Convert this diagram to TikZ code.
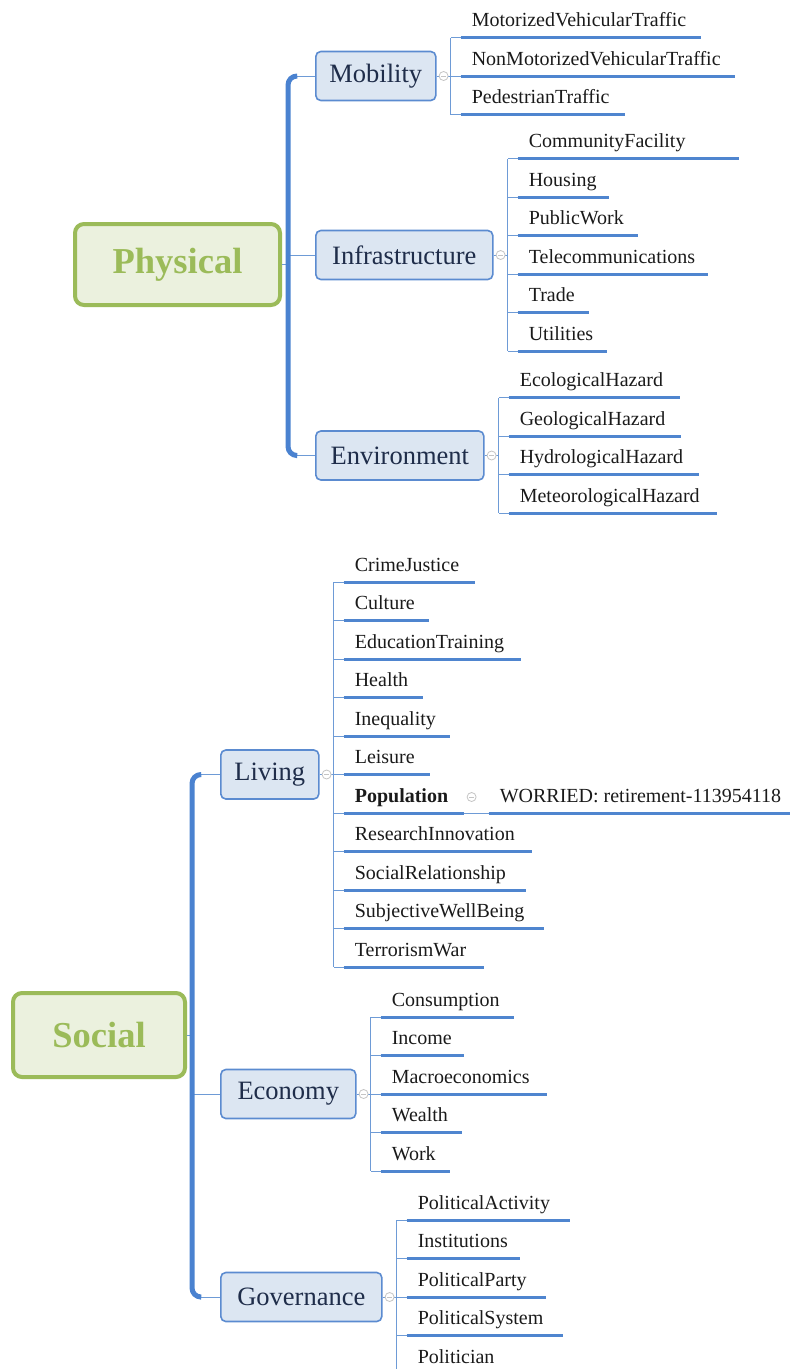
\documentclass[tikz,border=0pt]{standalone}
\usepackage{fontspec}
\setmainfont{Liberation Serif}

\definecolor{rootgreen}{HTML}{9BBB59}
\definecolor{rootfill}{HTML}{EBF1DE}
\definecolor{topicline}{HTML}{5B8BD0}
\definecolor{topicfill}{HTML}{DCE6F2}
\definecolor{topicink}{HTML}{1F2D4A}
\definecolor{spineblue}{HTML}{4A82D0}
\definecolor{ulineblue}{HTML}{4F85CF}
\definecolor{twigblue}{HTML}{6E9BD6}
\definecolor{knobgray}{HTML}{C4C4C4}
\definecolor{leafink}{HTML}{1A1A1A}

\newcommand{\rootfont}{\fontsize{36.5}{40}\selectfont}
\newcommand{\topicfont}{\fontsize{26.5}{30}\selectfont}
\newcommand{\leaffont}{\fontsize{20}{23}\selectfont}

\tikzset{
  root/.style={draw=rootgreen, line width=4, fill=rootfill, rounded corners=9,
    text=rootgreen, font=\rootfont\bfseries, minimum height=81},
  topic/.style={draw=topicline, line width=1.6, fill=topicfill, rounded corners=5,
    text=topicink, font=\topicfont, minimum height=49, anchor=west},
  leaf/.style={anchor=base west, inner sep=0, font=\leaffont, text=leafink},
  uline/.style={draw=ulineblue, line width=3},
  twig/.style={draw=twigblue, line width=1},
  spine/.style={draw=spineblue, line width=5, rounded corners=9},
  knob/.style={circle, draw=knobgray, fill=white, line width=0.8, minimum size=9, inner sep=0,
    path picture={\draw[knobgray, line width=0.8]
      ([xshift=-2.5]path picture bounding box.center) -- ([xshift=2.5]path picture bounding box.center);}}
}

% #1 topic node, #2 number of twigs, #3 list text/underline length
\newcommand{\twigs}[3]{%
  \draw[twig] (#1.east) -- ++(14,0);
  \foreach \txt/\len [count=\i] in {#3}{
    \coordinate (#1-u\i) at ([shift={(24,{(\i-(#2+1)/2)*38.5})}]#1.east);
    \coordinate (#1-e\i) at ([xshift=\len]#1-u\i);
    \node[leaf] (#1-\i) at ([shift={(11,-11)}]#1-u\i) {\txt};
    \draw[uline] (#1-u\i) -- (#1-e\i);
    \draw[twig] (#1-u\i) -- ++(-10,0);
  }
  \draw[twig] ([xshift=-10]#1-u1) -- ([xshift=-10]#1-u#2);
  \node[knob] (#1-k) at ([xshift=7]#1.east) {};
}

\begin{document}
\begin{tikzpicture}[x=1pt, y=-1pt]
  \path[use as bounding box] (0,0) rectangle (790,1369);
  \clip (0,0) rectangle (790,1369);

  % physical
  \node[root, minimum width=205] (phys) at (177.5,264.5) {Physical};
  \node[topic, minimum width=120] (mob) at (315,76) {Mobility};
  \node[topic, minimum width=177] (infra) at (315,255) {Infrastructure};
  \node[topic, minimum width=168] (env) at (315,455.5) {Environment};

  \coordinate (pspine) at ([xshift=-27]mob.west);
  \draw[twig] (phys.east) -- (phys.east -| pspine);
  \draw[twig] ([xshift=-19]mob.west) -- (mob.west);
  \draw[twig] (pspine |- infra.west) -- (infra.west);
  \draw[twig] ([xshift=-19]env.west) -- (env.west);
  \draw[spine] ([xshift=-19]mob.west) -- (pspine) -- (pspine |- env.west) -- ([xshift=-19]env.west);

  \twigs{mob}{3}{MotorizedVehicularTraffic/240, NonMotorizedVehicularTraffic/274, PedestrianTraffic/164}
  \twigs{infra}{6}{CommunityFacility/221, Housing/91, PublicWork/120, Telecommunications/190, Trade/71, Utilities/89}
  \twigs{env}{4}{EcologicalHazard/171, GeologicalHazard/172, HydrologicalHazard/190, MeteorologicalHazard/208}

  % social
  \node[root, minimum width=172, minimum height=84] (soc) at (99,1035) {Social};
  \node[topic, minimum width=98] (liv) at (220,774.5) {Living};
  \node[topic, minimum width=135] (eco) at (220,1094) {Economy};
  \node[topic, minimum width=161] (gov) at (220,1297) {Governance};

  \coordinate (sspine) at ([xshift=-28]liv.west);
  \draw[twig] (soc.east) -- (soc.east -| sspine);
  \draw[twig] ([xshift=-20]liv.west) -- (liv.west);
  \draw[twig] (sspine |- eco.west) -- (eco.west);
  \draw[twig] ([xshift=-20]gov.west) -- (gov.west);
  \draw[spine] ([xshift=-20]liv.west) -- (sspine) -- (sspine |- gov.west) -- ([xshift=-20]gov.west);

  \twigs{liv}{11}{CrimeJustice/131, Culture/85, EducationTraining/177, Health/79, Inequality/106, Leisure/86,
    {\bfseries Population}/120, ResearchInnovation/188, SocialRelationship/182, SubjectiveWellBeing/200, TerrorismWar/140}
  \twigs{eco}{5}{Consumption/133, Income/83, Macroeconomics/166, Wealth/81, Work/69}
  \twigs{gov}{5}{PoliticalActivity/163, Institutions/113, PoliticalParty/139, PoliticalSystem/156, Politician/106}

  % population detail
  \coordinate (worried-u) at ([xshift=25]liv-e7);
  \draw[twig] (liv-e7) -- (worried-u);
  \node[leaf] (worried) at ([shift={(11,-11)}]worried-u) {WORRIED: retirement-113954118};
  \draw[uline] (worried-u) -- ++(320,0);
  \node[knob] (liv-7k) at ([shift={(8,-16)}]liv-e7) {};
\end{tikzpicture}
\end{document}
